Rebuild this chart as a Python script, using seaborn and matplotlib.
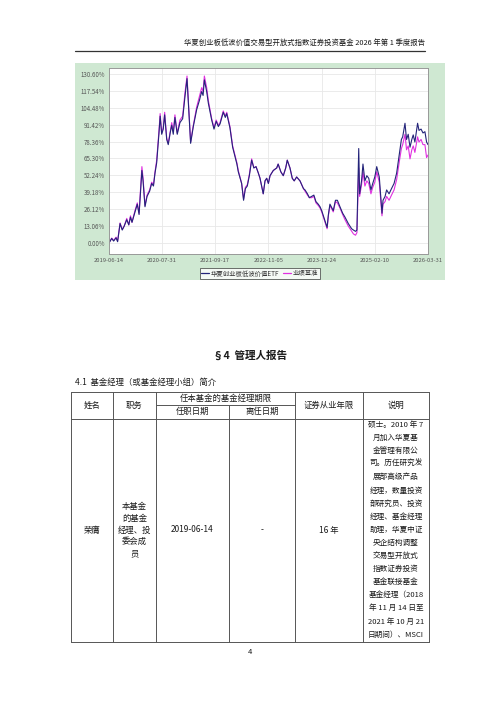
import matplotlib
matplotlib.use("Agg")
import matplotlib.pyplot as plt
from matplotlib.patches import Rectangle
from matplotlib.lines import Line2D
import pandas as pd
import seaborn as sns

sns.set_style("white")
plt.rcParams['font.family'] = ['Noto Sans CJK SC', 'DejaVu Sans']

# ---------------- data ----------------
dates = [
    "2019-06-14", "2019-07-05", "2019-07-20", "2019-08-08", "2019-08-20", "2019-09-08", "2019-09-25",
    "2019-10-10", "2019-10-30", "2019-11-15", "2019-11-28", "2019-12-10", "2020-01-02", "2020-01-20",
    "2020-02-03", "2020-02-12", "2020-02-25", "2020-03-05", "2020-03-20", "2020-04-05", "2020-04-25",
    "2020-05-11", "2020-05-25", "2020-06-06", "2020-06-19", "2020-07-07", "2020-07-16", "2020-07-28",
    "2020-08-09", "2020-08-20", "2020-09-05", "2020-09-17", "2020-10-02", "2020-10-14", "2020-10-26",
    "2020-11-08", "2020-11-26", "2020-12-17", "2021-01-07", "2021-01-25", "2021-02-10", "2021-02-22",
    "2021-03-10", "2021-03-31", "2021-04-26", "2021-05-17", "2021-06-04", "2021-06-15", "2021-06-25",
    "2021-07-13", "2021-07-26", "2021-08-21", "2021-09-08", "2021-09-25", "2021-10-12", "2021-10-25",
    "2021-11-19", "2021-12-05", "2021-12-16", "2022-01-10", "2022-01-31", "2022-02-18", "2022-03-05",
    "2022-03-16", "2022-04-11", "2022-04-26", "2022-05-10", "2022-05-25", "2022-06-10", "2022-06-28",
    "2022-07-15", "2022-08-01", "2022-08-19", "2022-09-01", "2022-09-26", "2022-10-10", "2022-10-23",
    "2022-11-05", "2022-11-18", "2022-12-13", "2023-01-09", "2023-01-20", "2023-02-10", "2023-03-01",
    "2023-03-20", "2023-04-01", "2023-04-22", "2023-05-10", "2023-05-25", "2023-06-13", "2023-07-01",
    "2023-07-09", "2023-08-05", "2023-08-17", "2023-09-05", "2023-09-20", "2023-10-08", "2023-10-25",
    "2023-11-10", "2023-11-28", "2023-12-12", "2023-12-25", "2024-01-10", "2024-01-19", "2024-02-05",
    "2024-02-15", "2024-02-27", "2024-03-24", "2024-04-10", "2024-04-25", "2024-05-15", "2024-06-05",
    "2024-06-23", "2024-07-19", "2024-08-14", "2024-08-28", "2024-09-13", "2024-09-24", "2024-10-08",
    "2024-10-15", "2024-10-30", "2024-11-10", "2024-11-25", "2024-12-10", "2024-12-25", "2025-01-11",
    "2025-01-25", "2025-02-10", "2025-02-25", "2025-03-17", "2025-04-07", "2025-04-15", "2025-05-01",
    "2025-05-13", "2025-06-01", "2025-06-20", "2025-07-10", "2025-07-30", "2025-08-20", "2025-09-05",
    "2025-09-15", "2025-10-03", "2025-10-15", "2025-10-28", "2025-11-11", "2025-11-25", "2025-12-06",
    "2025-12-19", "2026-01-09", "2026-01-20", "2026-02-05", "2026-02-20", "2026-03-07", "2026-03-20",
    "2026-03-31",
]
fund = [
    0, 3.5, 1.5, 4, 1.0, 15, 10,
    13, 18, 14, 20, 16, 24, 30,
    22, 36, 56, 48, 28, 36, 40,
    46, 44, 54, 62, 85, 98, 84,
    88, 99, 80, 76, 85, 91, 84,
    97, 84, 93, 96, 113, 127, 105,
    77, 90, 103, 110, 117, 114, 126,
    117, 108, 95, 88, 94, 90, 92,
    101, 97, 100, 89, 74, 67, 61,
    55, 46, 33, 42, 44, 52, 64,
    58, 59, 54, 50, 38, 48, 50,
    46, 52, 56, 58, 61, 55, 52,
    58, 64, 58, 50, 48, 51, 49,
    48, 42, 41, 38, 35, 36, 37,
    32, 30, 28, 25, 20, 17, 12,
    22, 30, 25, 33, 33, 28, 23,
    20, 15, 11, 10, 9, 10, 73,
    38, 48, 61, 48, 52, 50, 41,
    46, 51, 59, 51, 23, 33, 36,
    41, 38, 42, 46, 54, 69, 80,
    82, 92.5, 80, 84, 74, 80, 83.5,
    78, 92.5, 87, 88, 85, 86, 78,
    76,
]
bench = [
    0, 3.8, 2, 4.5, 1.5, 15.5, 10.5,
    13, 19, 14, 21, 16, 25, 31,
    23, 38, 59, 50, 29, 37, 41,
    47, 45, 55, 64, 87, 100, 85,
    89, 101, 81, 77, 86, 93, 86,
    99, 85, 95, 98, 116, 129, 107,
    78, 91, 105, 113, 120, 117, 129,
    120, 110, 96, 89, 95, 91, 93,
    102, 98, 101, 90, 75, 68, 62,
    56, 46, 34, 43, 45, 53, 65,
    58, 59, 54, 50, 38, 48, 50,
    46, 52, 56, 58, 61, 55, 52,
    58, 64, 58, 50, 48, 51, 49,
    48, 42, 40, 37, 35, 35, 36,
    31, 29, 27, 24, 19, 16, 11,
    21, 29, 24, 32, 31, 27, 22,
    18, 13, 9, 7, 6, 8, 58,
    36, 45, 55, 44, 48, 46, 38,
    43, 47, 55, 47, 21, 30, 32,
    36, 33, 37, 41, 49, 63, 73,
    76, 84, 72, 75, 65, 72, 75,
    70, 82, 78, 80, 76, 76, 66,
    68,
]
series_names = ["华夏创业板低波价值ETF", "业绩基准"]
series_colors = ["#24247a", "#e030e0"]
y_ticks = [0.00, 13.06, 26.12, 39.18, 52.24, 65.30, 78.36, 91.42, 104.48, 117.54, 130.60]
x_ticks = ["2019-06-14", "2020-07-31", "2021-09-17", "2022-11-05", "2023-12-24", "2025-02-10", "2026-03-31"]

header_text = "华夏创业板低波价值交易型开放式指数证券投资基金 2026 年第 1 季度报告"
section_title = "§4  管理人报告"
sub_title = "4.1  基金经理（或基金经理小组）简介"
col_headers = ["姓名", "职务", "任本基金的基金经理期限", "任职日期", "离任日期", "证券从业年限", "说明"]
row_name = "荣膺"
row_role = ["本基金", "的基金", "经理、投", "委会成", "员"]
row_start = "2019-06-14"
row_end = "-"
row_years = "16 年"
row_desc = ["硕士。2010 年 7", "月加入华夏基", "金管理有限公", "司。历任研究发", "展部高级产品",
            "经理，数量投资", "部研究员、投资", "经理、基金经理", "助理，华夏中证", "央企结构调整",
            "交易型开放式", "指数证券投资", "基金联接基金", "基金经理（2018", "年 11 月 14 日至",
            "2021 年 10 月 21", "日期间）、MSCI"]
page_no = "4"

# ---------------- figure ----------------
W, H = 500, 707
fig = plt.figure(figsize=(W / 100, H / 100), dpi=100)
fig.patch.set_facecolor("white")

page = fig.add_axes([0, 0, 1, 1], zorder=0)
page.set_xlim(0, W)
page.set_ylim(H, 0)
page.axis("off")
page.patch.set_alpha(0)

txt = "#1a1a1a"
page.text(425, 43, header_text, ha="right", va="center", fontsize=5.3, color=txt)
page.plot([75, 425], [50.5, 50.5], color="#333333", lw=0.9)

page.add_patch(Rectangle((75, 63), 370, 217, facecolor="#cfe8d2", edgecolor="none"))

page.text(250, 356, section_title, ha="center", va="center", fontsize=7.6, fontweight="bold", color=txt)
page.text(75, 382, sub_title, ha="left", va="center", fontsize=6.0, color=txt)

xs = [71, 113, 156, 229, 295, 363, 429]
yt, ym, yh, yb = 392, 405, 418.5, 642
lc = "#555555"
lw = 0.7
page.plot([xs[0], xs[-1]], [yt, yt], color=lc, lw=lw)
page.plot([xs[0], xs[-1]], [yh, yh], color=lc, lw=lw)
page.plot([xs[0], xs[-1]], [yb, yb], color=lc, lw=lw)
page.plot([xs[2], xs[4]], [ym, ym], color=lc, lw=lw)
for i, x in enumerate(xs):
    if i == 3:
        page.plot([x, x], [ym, yb], color=lc, lw=lw)
    else:
        page.plot([x, x], [yt, yb], color=lc, lw=lw)

fs = 6.0
page.text((xs[0] + xs[1]) / 2, (yt + yh) / 2, col_headers[0], ha="center", va="center", fontsize=fs, color=txt)
page.text((xs[1] + xs[2]) / 2, (yt + yh) / 2, col_headers[1], ha="center", va="center", fontsize=fs, color=txt)
page.text((xs[2] + xs[4]) / 2, (yt + ym) / 2, col_headers[2], ha="center", va="center", fontsize=fs, color=txt)
page.text((xs[2] + xs[3]) / 2, (ym + yh) / 2, col_headers[3], ha="center", va="center", fontsize=fs, color=txt)
page.text((xs[3] + xs[4]) / 2, (ym + yh) / 2, col_headers[4], ha="center", va="center", fontsize=fs, color=txt)
page.text((xs[4] + xs[5]) / 2, (yt + yh) / 2, col_headers[5], ha="center", va="center", fontsize=fs, color=txt)
page.text((xs[5] + xs[6]) / 2, (yt + yh) / 2, col_headers[6], ha="center", va="center", fontsize=fs, color=txt)

yc = 530
page.text((xs[0] + xs[1]) / 2, yc, row_name, ha="center", va="center", fontsize=fs, color=txt)
for k, line in enumerate(row_role):
    page.text((xs[1] + xs[2]) / 2, yc + (k - 2) * 11.7, line, ha="center", va="center", fontsize=fs, color=txt)
page.text((xs[2] + xs[3]) / 2, yc, row_start, ha="center", va="center", fontsize=fs, color=txt)
page.text((xs[3] + xs[4]) / 2, yc, row_end, ha="center", va="center", fontsize=fs, color=txt)
page.text((xs[4] + xs[5]) / 2, yc, row_years, ha="center", va="center", fontsize=fs, color=txt)
for k, line in enumerate(row_desc):
    page.text((xs[5] + xs[6]) / 2, 425 + k * 13.1, line, ha="center", va="center", fontsize=5.5, color=txt)

page.text(250, 652, page_no, ha="center", va="center", fontsize=5.5, color=txt)

# ---------------- chart ----------------
ax = fig.add_axes([109 / W, 1 - 254 / H, (428 - 109) / W, (254 - 68) / H], zorder=2)
ax.set_facecolor("white")

df = pd.DataFrame({"date": pd.to_datetime(dates), "fund": fund, "bench": bench})
long = df.melt(id_vars="date", value_vars=["bench", "fund"], var_name="s", value_name="v")
long["s"] = long["s"].map({"fund": series_names[0], "bench": series_names[1]})
sns.lineplot(data=long, x="date", y="v", hue="s",
             hue_order=[series_names[1], series_names[0]],
             palette={series_names[0]: series_colors[0], series_names[1]: series_colors[1]},
             linewidth=0.8, ax=ax, legend=False)

ax.set_xlim(pd.Timestamp(x_ticks[0]), pd.Timestamp(x_ticks[-1]))
ax.set_ylim(-8.5, 135.2)
ax.set_yticks(y_ticks)
ax.set_yticklabels([f"{v:.2f}%" for v in y_ticks], fontsize=4.4, color="#555555")
ax.set_xticks(pd.to_datetime(x_ticks))
ax.set_xticklabels(x_ticks, fontsize=4.2, color="#555555")
ax.tick_params(length=0, pad=3)
ax.grid(True, color="#e8e8e8", lw=0.6)
ax.set_xlabel("")
ax.set_ylabel("")
for sp in ax.spines.values():
    sp.set_color("#999999")
    sp.set_linewidth(0.7)

handles = [Line2D([0], [0], color=series_colors[0], lw=0.9),
           Line2D([0], [0], color=series_colors[1], lw=0.9)]
leg = fig.legend(handles, series_names, loc="center", bbox_to_anchor=(260 / W, 1 - 273.5 / H),
                 ncol=2, fontsize=4.6, frameon=True, fancybox=False, handlelength=1.2,
                 handletextpad=0.3, columnspacing=0.6, borderpad=0.3, borderaxespad=0)
leg.get_frame().set_edgecolor("#333333")
leg.get_frame().set_linewidth(0.6)
leg.get_frame().set_facecolor("white")
for t in leg.get_texts():
    t.set_color("#333333")

fig.savefig("out.png", dpi=100)
